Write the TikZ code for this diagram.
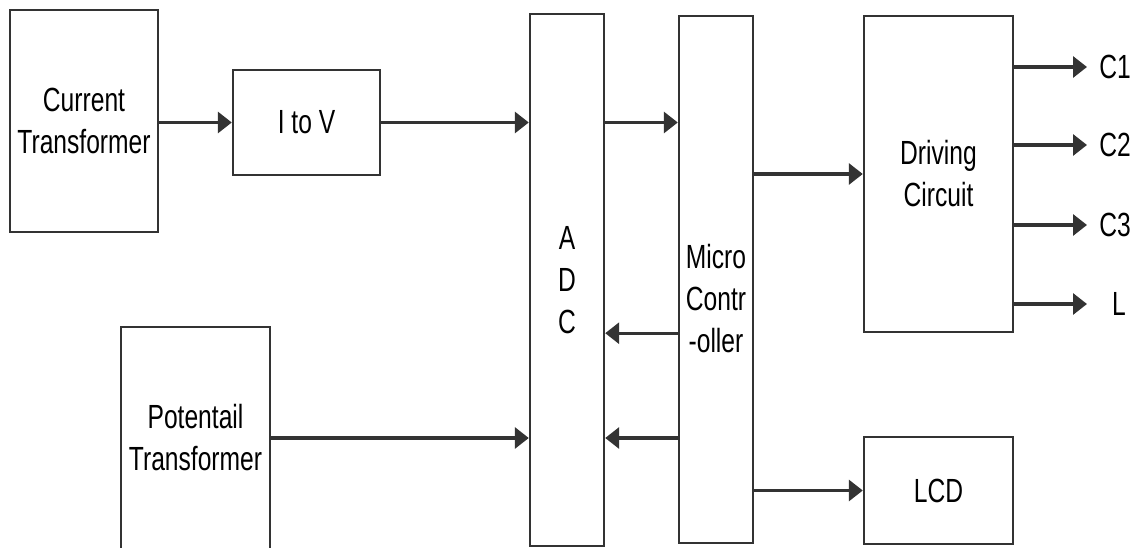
\documentclass[tikz,border=0pt]{standalone}
\usepackage{fontspec}
\setmainfont{Liberation Sans}[FakeStretch=0.735]
\usepackage{tikz}
\usetikzlibrary{arrows.meta}
\definecolor{linegray}{HTML}{333333}

\begin{document}
\begin{tikzpicture}[
  x=1pt, y=-1pt,
  font=\fontsize{33.5}{42}\selectfont,
  blok/.style={draw=linegray, line width=2.4pt, inner sep=0pt, align=center},
  txt/.style={inner sep=0pt, align=center},
  sig/.style={inner sep=0pt, minimum width=34pt, outer xsep=11pt},
  arr/.style={-{Triangle[length=14pt,width=21pt]}, draw=linegray, line width=3.2pt}
]
\useasboundingbox (0,0) rectangle (1136,548);
\node[blok, minimum width=148.5pt, minimum height=222pt] (ct) at (84,121) {Current\\Transformer};
\node[blok, minimum width=147pt, minimum height=105pt] (iv) at (306.5,122.5) {I to V};
\node[blok, minimum width=149pt, minimum height=222pt] (pt) at (195.5,438) {Potentail\\Transformer};
\node[blok, minimum width=74pt, minimum height=532pt] (adc) at (567,280) {A\\D\\C};
\node[blok, minimum width=74pt, minimum height=527pt] (mc) at (716,279.5) {};
\node[txt] (mctext) at (716,299) {Micro\\Contr\\-oller};
\node[blok, minimum width=149pt, minimum height=316pt] (drv) at (938.5,174) {Driving\\Circuit};
\node[blok, minimum width=149pt, minimum height=107pt] (lcd) at (938.5,490.5) {LCD};
\node[sig] (c1) at (1115,67) {C1};
\node[sig] (c2) at (1115,145) {C2};
\node[sig] (c3) at (1115,225) {C3};
\node[sig] (l) at (1119,304) {L};
\draw[arr] (ct.east |- iv) -- (iv.west);
\draw[arr] (iv.east) -- (adc.west |- iv);
\draw[arr] (adc.east |- iv) -- (mc.west |- iv);
\draw[arr] (mc.west |- drv.south) -- (adc.east |- drv.south);
\draw[arr] (mc.west |- pt) -- (adc.east |- pt);
\draw[arr] (pt.east) -- (adc.west |- pt);
\draw[arr] (mc.east |- drv) -- (drv.west);
\draw[arr] (mc.east |- lcd) -- (lcd.west);
\foreach \out in {c1,c2,c3}
  \draw[arr] (drv.east |- \out) -- (\out.west);
\draw[arr] (drv.east |- l) -- ([xshift=-4pt]l.west);
\end{tikzpicture}
\end{document}
